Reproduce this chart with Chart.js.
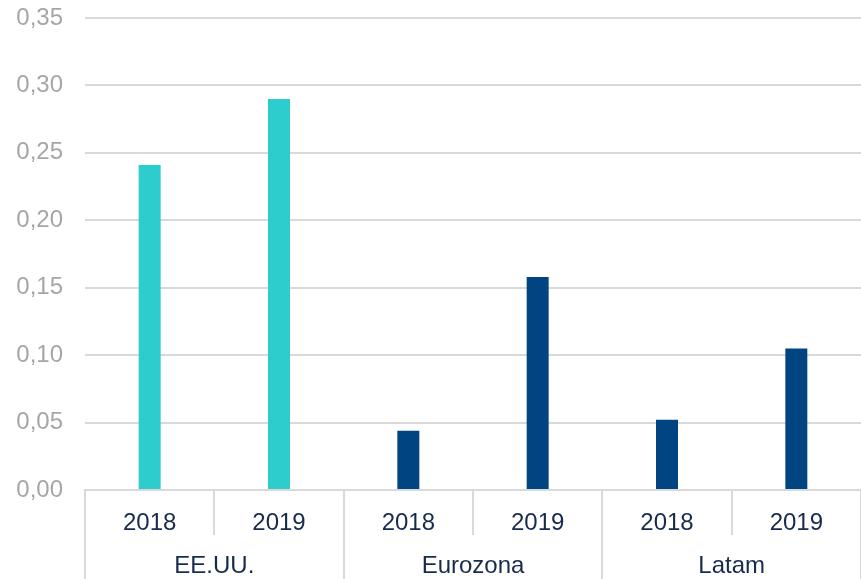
<!DOCTYPE html>
<html>
<head>
<meta charset="utf-8">
<script src="https://cdn.jsdelivr.net/npm/chart.js@4"></script>
<style>
  html, body { margin: 0; padding: 0; background: #ffffff; }
  #wrap { width: 861px; height: 579px; }
</style>
</head>
<body>
<div id="wrap"><canvas id="c" width="861" height="579"></canvas></div>
<script>
const years = ['2018', '2019', '2018', '2019', '2018', '2019'];
const groups = ['EE.UU.', 'Eurozona', 'Latam'];
const values = [0.241, 0.290, 0.044, 0.158, 0.052, 0.105];
const barColors = ['#2DCCCD', '#2DCCCD', '#004481', '#004481', '#004481', '#004481'];
const yTicks = [0, 0.05, 0.10, 0.15, 0.20, 0.25, 0.30, 0.35];

const FONT = '"Liberation Sans", Arial, sans-serif';
const GRID = '#d9d9d9';

new Chart(document.getElementById('c'), {
  type: 'bar',
  data: {
    labels: years,
    datasets: [{
      data: values,
      backgroundColor: barColors,
      borderWidth: 0,
      categoryPercentage: 1,
      barPercentage: 0.17
    }]
  },
  options: {
    responsive: false,
    animation: false,
    devicePixelRatio: 1,
    layout: { padding: { top: 0, left: 0, right: 0, bottom: 0 } },
    plugins: { legend: { display: false }, tooltip: { enabled: false } },
    scales: {
      x: {
        position: 'bottom',
        offset: true,
        grid: { offset: true, drawOnChartArea: false, drawTicks: true, tickLength: 45, color: GRID, lineWidth: 2 },
        border: { display: true, color: GRID, width: 2 },
        ticks: { color: '#172b4d', font: { family: FONT, size: 24 }, padding: -26, maxRotation: 0, autoSkip: false },
        afterFit: s => { s.height = 45; }
      },
      x2: {
        type: 'category',
        position: 'bottom',
        labels: groups,
        offset: true,
        grid: { offset: true, drawOnChartArea: false, drawTicks: true, tickLength: 44, color: GRID, lineWidth: 2 },
        border: { display: false },
        ticks: { color: '#172b4d', font: { family: FONT, size: 24 }, padding: -27, maxRotation: 0, autoSkip: false },
        afterFit: s => { s.height = 44; }
      },
      y: {
        min: 0,
        max: 0.35,
        afterBuildTicks: s => { s.ticks = yTicks.map(v => ({ value: v })); },
        grid: { color: GRID, lineWidth: 2, drawTicks: false },
        border: { display: false },
        ticks: {
          color: '#a6a6a6',
          font: { family: FONT, size: 24 },
          padding: 22,
          callback: v => v.toFixed(2).replace('.', ',')
        },
        afterFit: s => { s.width = 85; s.paddingTop = 18; s.paddingBottom = 0; }
      }
    }
  }
});
</script>
</body>
</html>
